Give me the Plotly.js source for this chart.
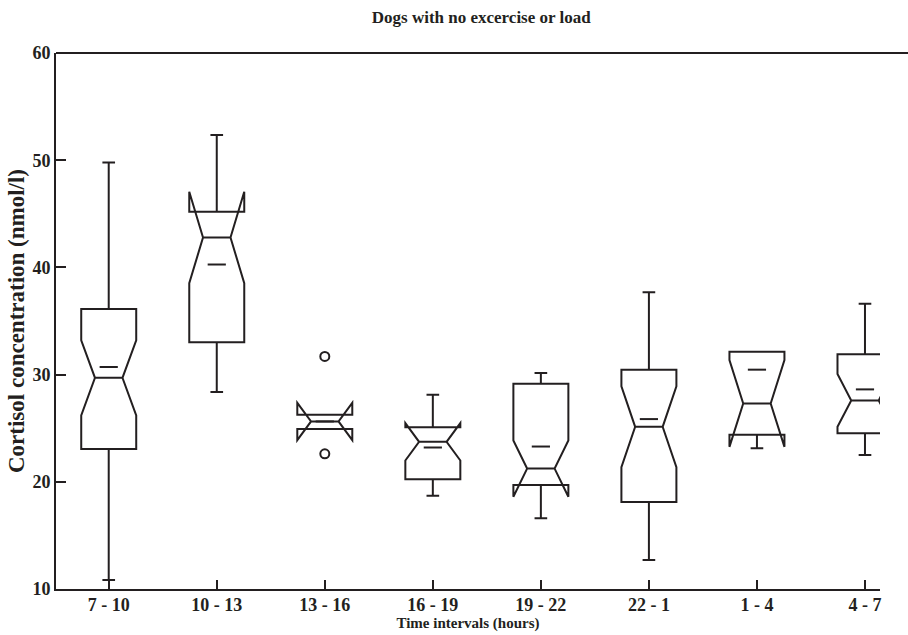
<!DOCTYPE html>
<html>
<head>
<meta charset="utf-8">
<script src="https://cdn.plot.ly/plotly-3.0.1.min.js"></script>
<style>html,body{margin:0;padding:0;background:#fff;}#chart{width:908px;height:635px;}</style>
</head>
<body>
<div id="chart"></div>
<script>
// ---- data ----
const categories = ["7 - 10", "10 - 13", "13 - 16", "16 - 19", "19 - 22", "22 - 1", "1 - 4", "4 - 7"];
const lowerWhisker = [10.83, 28.37, 24.92, 18.71, 16.60, 12.70, 23.14, 22.51];
const q1Values     = [23.05, 33.01, 24.92, 20.24, 19.71, 18.12, 24.38, 24.54];
const medianValues = [29.70, 42.79, 25.63, 23.73, 21.23, 25.13, 27.31, 27.59];
const q3Values     = [36.13, 45.20, 26.25, 25.10, 29.15, 30.46, 32.14, 31.89];
const upperWhisker = [49.78, 52.36, 26.25, 28.12, 30.15, 37.68, 32.14, 36.60];
const meanValues   = [30.71, 40.27, 25.63, 23.20, 23.29, 25.85, 30.46, 28.62];
const notchSpans   = [3.50, 4.27, 1.74, 1.74, 2.63, 3.77, 4.05, 2.46];
const hasWhiskers  = [true, true, false, true, true, true, true, true];
const outlierCats  = ["13 - 16", "13 - 16"];
const outlierVals  = [31.70, 22.61];
const yTicks = [10, 20, 30, 40, 50, 60];

const ink = "#231f20";
const serif = "'Liberation Serif', 'Times New Roman', serif";

function pick(arr, flag) { return arr.filter((_, i) => hasWhiskers[i] === flag); }

function boxTrace(flag) {
  return {
    type: "box",
    x: pick(categories, flag),
    q1: pick(q1Values, flag),
    median: pick(medianValues, flag),
    q3: pick(q3Values, flag),
    lowerfence: pick(lowerWhisker, flag),
    upperfence: pick(upperWhisker, flag),
    notchspan: pick(notchSpans, flag),
    notched: true,
    notchwidth: 0.53,
    whiskerwidth: 0.23,
    showwhiskers: flag,
    width: 0.509,
    boxpoints: false,
    fillcolor: "rgba(0,0,0,0)",
    line: {color: ink, width: 2},
    hoverinfo: "skip",
    showlegend: false
  };
}

const traces = [
  boxTrace(true),
  boxTrace(false),
  {
    type: "scatter",
    mode: "markers",
    x: categories,
    y: meanValues,
    marker: {symbol: "line-ew", size: 13, line: {color: ink, width: 2}},
    hoverinfo: "skip",
    showlegend: false
  },
  {
    type: "scatter",
    mode: "markers",
    x: outlierCats,
    y: outlierVals,
    marker: {symbol: "circle-open", size: 9, color: ink, line: {color: ink, width: 2}},
    hoverinfo: "skip",
    showlegend: false
  }
];

const layout = {
  width: 908,
  height: 635,
  margin: {l: 56, r: 28, t: 53, b: 46, pad: 0},
  paper_bgcolor: "#fff",
  plot_bgcolor: "#fff",
  boxmode: "overlay",
  font: {family: serif, color: ink, size: 15, weight: "bold"},
  title: {
    text: "Dogs with no excercise or load",
    font: {family: serif, size: 17, color: ink, weight: "bold"},
    xref: "container", x: 0.53, xanchor: "center",
    yref: "container", y: 0.973, yanchor: "middle"
  },
  xaxis: {
    type: "category",
    categoryorder: "array",
    categoryarray: categories,
    range: [-0.488, 7.139],
    showline: true, linecolor: ink, linewidth: 2,
    ticks: "inside", ticklen: 9, tickwidth: 2, tickcolor: ink,
    ticklabelstandoff: -2,
    showgrid: false, zeroline: false,
    tickfont: {family: serif, size: 18, color: ink, weight: "bold"},
    title: {text: "Time intervals (hours)", standoff: 0,
            font: {family: serif, size: 15, color: ink, weight: "bold"}}
  },
  yaxis: {
    range: [10, 60],
    tickvals: yTicks,
    showline: true, linecolor: ink, linewidth: 2,
    ticks: "inside", ticklen: 10, tickwidth: 2, tickcolor: ink,
    showgrid: false, zeroline: false,
    tickfont: {family: serif, size: 18, color: ink, weight: "bold"},
    title: {text: "Cortisol concentration (nmol/l)", standoff: 1,
            font: {family: serif, size: 23, color: ink, weight: "bold"}}
  },
  shapes: [
    {type: "line", xref: "paper", yref: "paper", x0: 0, x1: 1.04, y0: 1, y1: 1,
     line: {color: ink, width: 2}}
  ]
};

Plotly.newPlot("chart", traces, layout, {displayModeBar: false, staticPlot: true});
</script>
</body>
</html>
